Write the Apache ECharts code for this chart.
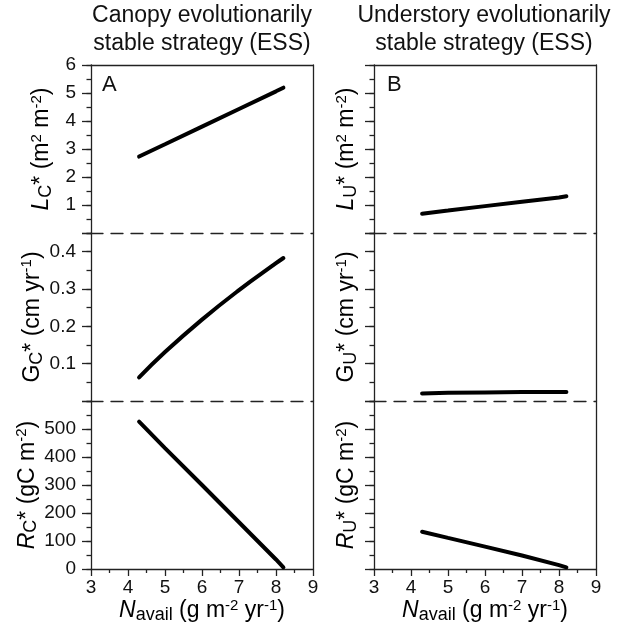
<!DOCTYPE html>
<html>
<head>
<meta charset="utf-8">
<script src="https://cdn.jsdelivr.net/npm/echarts@6/dist/echarts.min.js"></script>
<style>
  html, body { margin: 0; padding: 0; background: #fff; }
  #main { width: 621px; height: 634px; }
</style>
</head>
<body>
<div id="main"></div>
<script>
// N availability (x) shared by all panels
const nAvail = [4.3, 5, 6, 7, 8, 8.2];
// canopy ESS
const lCanopy = [2.73, 3.17, 3.80, 4.43, 5.06, 5.19];
const gCanopy = [0.063, 0.131, 0.218, 0.297, 0.369, 0.383];
const rCanopy = [526, 432, 300, 167, 34, 6];
// understory ESS
const lUnder = [0.69, 0.80, 0.96, 1.12, 1.27, 1.31];
const gUnder = [0.020, 0.022, 0.023, 0.024, 0.024, 0.024];
const rUnder = [133, 111, 80, 48, 14, 6];
// tick labels
const xTickLabels = [3, 4, 5, 6, 7, 8, 9];
const lTickLabels = [1, 2, 3, 4, 5, 6];
const gTickLabels = [0.1, 0.2, 0.3, 0.4];
const rTickLabels = [0, 100, 200, 300, 400, 500];

const FONT = 'Liberation Sans, Arial, sans-serif';
const AXIS_COLOR = '#222';

const rich = {
  i: { fontSize: 23, fontStyle: 'italic', fontFamily: FONT, color: '#000', lineHeight: 26 },
  n: { fontSize: 23, fontFamily: FONT, color: '#000', lineHeight: 26 },
  sub: { fontSize: 18, fontFamily: FONT, color: '#000', lineHeight: 11, verticalAlign: 'bottom' },
  sup: { fontSize: 15, fontFamily: FONT, color: '#000', lineHeight: 15, verticalAlign: 'top' }
};

const panels = [
  { col: 0, row: 0, y: lCanopy, min: 0, max: 6, step: 1, labels: lTickLabels,
    name: '{i|L}{sub|C}{n|* (m}{sup|2}{n| m}{sup|-2}{n|)}' },
  { col: 0, row: 1, y: gCanopy, min: 0, max: 0.45, step: 0.1, minor: 0.05, labels: gTickLabels, smooth: 0.5,
    name: '{n|G}{sub|C}{n|* (cm yr}{sup|-1}{n|)}' },
  { col: 0, row: 2, y: rCanopy, min: 0, max: 600, step: 100, labels: rTickLabels,
    name: '{i|R}{sub|C}{n|* (gC m}{sup|-2}{n|)}' },
  { col: 1, row: 0, y: lUnder, min: 0, max: 6, step: 1, labels: null,
    name: '{i|L}{sub|U}{n|* (m}{sup|2}{n| m}{sup|-2}{n|)}' },
  { col: 1, row: 1, y: gUnder, min: 0, max: 0.45, step: 0.1, minor: 0.05, labels: null,
    name: '{n|G}{sub|U}{n|* (cm yr}{sup|-1}{n|)}' },
  { col: 1, row: 2, y: rUnder, min: 0, max: 600, step: 100, labels: null,
    name: '{i|R}{sub|U}{n|* (gC m}{sup|-2}{n|)}' }
];

const gridTops = [65, 233, 401];
const gridLefts = [91, 374];

const grid = [], xAxis = [], yAxis = [], series = [];

function inList(list, v) {
  return list.some(function (t) { return Math.abs(t - v) < 1e-9; });
}

panels.forEach(function (p, gi) {
  grid.push({ left: gridLefts[p.col], top: gridTops[p.row], width: 222, height: 168 });

  const bottomRow = p.row === 2;
  const xMain = xAxis.length;
  xAxis.push({
    gridIndex: gi, type: 'value', position: 'bottom', min: 3, max: 9, interval: 1,
    axisLine: { show: true, onZero: false, lineStyle: { color: AXIS_COLOR, width: 1.3, type: bottomRow ? 'solid' : [12, 8] } },
    axisTick: { show: bottomRow, length: 7, lineStyle: { color: AXIS_COLOR, width: 1.3 } },
    minorTick: { show: bottomRow, splitNumber: 2, length: 4, lineStyle: { color: AXIS_COLOR, width: 1.3 } },
    axisLabel: {
      show: bottomRow, margin: 9, fontSize: 19, fontFamily: FONT, color: '#111',
      formatter: function (v) { return inList(xTickLabels, v) ? String(v) : ''; }
    },
    splitLine: { show: false },
    name: bottomRow ? '{i|N}{sub|avail}{n| (g m}{sup|-2}{n| yr}{sup|-1}{n|)}' : '',
    nameLocation: 'middle', nameGap: 24,
    nameTextStyle: { rich: rich }
  });
  if (p.row === 0) {
    xAxis.push({
      gridIndex: gi, type: 'value', position: 'top', min: 3, max: 9,
      axisLine: { show: true, onZero: false, lineStyle: { color: AXIS_COLOR, width: 1.3 } },
      axisTick: { show: false }, axisLabel: { show: false }, splitLine: { show: false }
    });
  }

  const yMain = yAxis.length;
  yAxis.push({
    gridIndex: gi, type: 'value', position: 'left', min: p.min, max: p.max, interval: p.step,
    axisLine: { show: true, onZero: false, lineStyle: { color: AXIS_COLOR, width: 1.3 } },
    axisTick: { show: true, length: 9, lineStyle: { color: AXIS_COLOR, width: 1.3 } },
    axisLabel: {
      show: !!p.labels, margin: 15, fontSize: 19, fontFamily: FONT, color: '#111',
      formatter: function (v) { return p.labels && inList(p.labels, v) ? String(v) : ''; }
    },
    splitLine: { show: false },
    name: p.name, nameLocation: 'middle', nameRotate: 90,
    nameGap: p.col === 0 ? 36 : 14,
    nameTextStyle: { rich: rich }
  });
  // short ticks between the labelled ones
  yAxis.push({
    gridIndex: gi, type: 'value', position: 'left', min: p.min, max: p.max,
    interval: p.minor || p.step / 2,
    axisLine: { show: false },
    axisTick: { show: true, length: 4.5, lineStyle: { color: AXIS_COLOR, width: 1.3 } },
    axisLabel: { show: false }, splitLine: { show: false }
  });
  // right frame
  yAxis.push({
    gridIndex: gi, type: 'value', position: 'right', min: p.min, max: p.max,
    axisLine: { show: true, onZero: false, lineStyle: { color: AXIS_COLOR, width: 1.3 } },
    axisTick: { show: false }, axisLabel: { show: false }, splitLine: { show: false }
  });

  series.push({
    type: 'line', xAxisIndex: xMain, yAxisIndex: yMain,
    data: nAvail.map(function (x, k) { return [x, p.y[k]]; }),
    symbol: 'none', smooth: p.smooth || false,
    lineStyle: { color: '#000', width: 4, cap: 'round' }
  });
});

const chart = echarts.init(document.getElementById('main'), null, { renderer: 'canvas' });
chart.setOption({
  animation: false,
  backgroundColor: '#fff',
  title: [
    { text: 'Canopy evolutionarily\nstable strategy (ESS)', left: 202, top: 2, textAlign: 'center', padding: 0,
      textStyle: { fontSize: 23, lineHeight: 28, fontWeight: 'normal', fontFamily: FONT, color: '#111' } },
    { text: 'Understory evolutionarily\nstable strategy (ESS)', left: 484, top: 2, textAlign: 'center', padding: 0,
      textStyle: { fontSize: 23, lineHeight: 28, fontWeight: 'normal', fontFamily: FONT, color: '#111' } },
    { text: 'A', left: 102, top: 74, padding: 0,
      textStyle: { fontSize: 22, fontWeight: 'normal', fontFamily: FONT, color: '#111' } },
    { text: 'B', left: 387, top: 74, padding: 0,
      textStyle: { fontSize: 22, fontWeight: 'normal', fontFamily: FONT, color: '#111' } }
  ],
  grid: grid,
  xAxis: xAxis,
  yAxis: yAxis,
  series: series
});
</script>
</body>
</html>
